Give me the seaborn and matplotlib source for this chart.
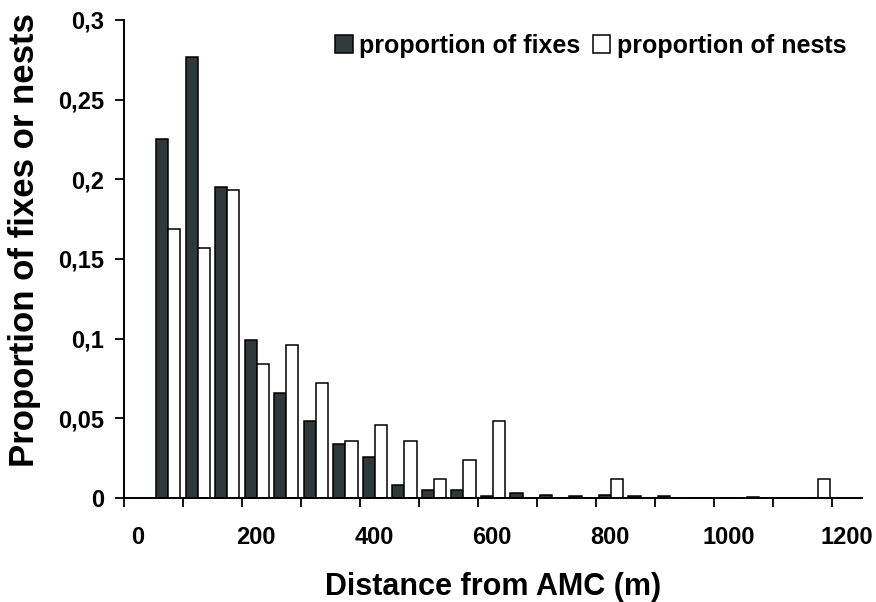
import matplotlib
matplotlib.use("Agg")
import matplotlib.pyplot as plt
import matplotlib.transforms as mtransforms
from matplotlib.patches import Patch
import pandas as pd
import seaborn as sns

# Distance classes (m, class midpoints) and the share of fixes / nests in each
distance_class = [75, 125, 175, 225, 275, 325, 375, 425, 475, 525, 575, 625,
                  675, 725, 775, 825, 875, 925, 975, 1025, 1075, 1125, 1175]
prop_fixes = [0.225, 0.277, 0.195, 0.099, 0.066, 0.048, 0.034, 0.026, 0.008,
              0.005, 0.005, 0.0015, 0.003, 0.002, 0.0013, 0.002, 0.001, 0.001,
              0.0, 0.0, 0.0008, 0.0, 0.0]
prop_nests = [0.169, 0.157, 0.193, 0.084, 0.096, 0.072, 0.036, 0.046, 0.036,
              0.012, 0.024, 0.048, 0.0, 0.0, 0.0, 0.012, 0.0, 0.0,
              0.0, 0.0, 0.0, 0.0, 0.012]
series_names = ["proportion of fixes", "proportion of nests"]

x_ticks = [0, 100, 200, 300, 400, 500, 600, 700, 800, 900, 1000, 1100, 1200]
x_tick_labels = ["0", "", "200", "", "400", "", "600", "", "800", "", "1000", "", "1200"]
y_ticks = [0, 0.05, 0.1, 0.15, 0.2, 0.25, 0.3]
y_tick_labels = ["0", "0,05", "0,1", "0,15", "0,2", "0,25", "0,3"]

fix_color = "#2f3a3a"
nest_color = "#ffffff"

df = pd.DataFrame({
    "distance": distance_class * 2,
    "proportion": prop_fixes + prop_nests,
    "series": [series_names[0]] * len(distance_class) + [series_names[1]] * len(distance_class),
})

sns.set_style("ticks")
plt.rcParams["font.family"] = ["Liberation Sans", "DejaVu Sans"]
plt.rcParams["font.weight"] = "bold"
plt.rcParams["text.color"] = "black"
plt.rcParams["axes.labelcolor"] = "black"
plt.rcParams["xtick.color"] = "black"
plt.rcParams["ytick.color"] = "black"

fig = plt.figure(figsize=(8.76, 6.02), dpi=100)
ax = fig.add_axes([0.1416, 0.1728, 0.984 - 0.1416, 0.9668 - 0.1728])

sns.barplot(data=df, x="distance", y="proportion", hue="series",
            hue_order=series_names,
            palette={series_names[0]: fix_color, series_names[1]: nest_color},
            native_scale=True, errorbar=None, width=0.82, gap=0,
            edgecolor="black", linewidth=1.1, ax=ax, legend=False)

ax.set_xlim(0, 1250)
ax.set_ylim(0, 0.3)
ax.set_xticks(x_ticks)
ax.set_xticklabels(x_tick_labels)
ax.set_yticks(y_ticks)
ax.set_yticklabels(y_tick_labels)

for side in ("top", "right"):
    ax.spines[side].set_visible(False)
for side in ("left", "bottom"):
    ax.spines[side].set_linewidth(1.4)
    ax.spines[side].set_color("black")

ax.tick_params(axis="both", direction="out", length=6.5, width=1.3, colors="black",
               labelcolor="black", labelsize=17)
ax.tick_params(axis="y", pad=8)
ax.tick_params(axis="x", pad=14)
for lab in ax.get_xticklabels() + ax.get_yticklabels():
    lab.set_fontweight("bold")

# x tick labels sit a little to the right of their tick marks
shift = mtransforms.ScaledTranslation(14 / 100, 0, fig.dpi_scale_trans)
for lab in ax.get_xticklabels():
    lab.set_transform(lab.get_transform() + shift)

ax.set_xlabel("Distance from AMC (m)", fontsize=22, fontweight="bold", labelpad=16)
ax.set_ylabel("Proportion of fixes or nests", fontsize=25, fontweight="bold")
ax.yaxis.set_label_coords(-0.113, 0.54)

handles = [Patch(facecolor=fix_color, edgecolor="black", linewidth=1.1),
           Patch(facecolor=nest_color, edgecolor="black", linewidth=1.1)]
fig.legend(handles, series_names, loc="center right", bbox_to_anchor=(0.966, 0.924),
           ncol=2, frameon=False, prop={"size": 18, "weight": "bold"},
           handlelength=0.7, handleheight=0.7, handletextpad=0.25,
           columnspacing=0.5, borderpad=0, borderaxespad=0)

fig.savefig("out.png", dpi=100)
